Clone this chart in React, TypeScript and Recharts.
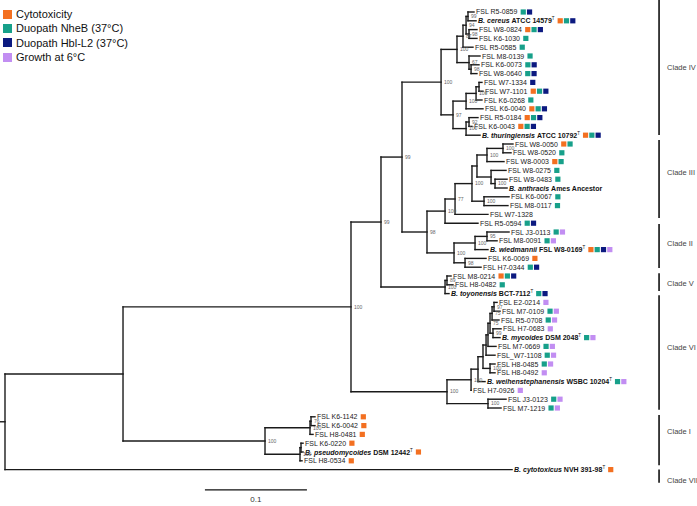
import React from 'react';
import { ScatterChart, Scatter, XAxis, YAxis, ReferenceLine } from 'recharts';

const FONT = '"Liberation Sans", Arial, sans-serif';

const traitKeys = ['C', 'N', 'H', 'G'];
const traitNames = ['Cytotoxicity', 'Duopath NheB (37°C)', 'Duopath Hbl-L2 (37°C)', 'Growth at 6°C'];
const traitColors = ['#F37021', '#17A08A', '#0C1A80', '#C28EF2'];

// leaves top to bottom; "species|strain|T" marks a named (type) strain
const leafLabels = [
  'FSL R5-0859', 'B. cereus|ATCC 14579|T', 'FSL W8-0824', 'FSL K6-1030', 'FSL R5-0585',
  'FSL M8-0139', 'FSL K6-0073', 'FSL W8-0640', 'FSL W7-1334', 'FSL W7-1101',
  'FSL K6-0268', 'FSL K6-0040', 'FSL R5-0184', 'FSL K6-0043', 'B. thuringiensis|ATCC 10792|T',
  'FSL W8-0050', 'FSL W8-0520', 'FSL W8-0003', 'FSL W8-0275', 'FSL W8-0483',
  'B. anthracis|Ames Ancestor|', 'FSL K6-0067', 'FSL M8-0117', 'FSL W7-1328', 'FSL R5-0594',
  'FSL J3-0113', 'FSL M8-0091', 'B. wiedmannii|FSL W8-0169|T', 'FSL K6-0069', 'FSL H7-0344',
  'FSL M8-0214', 'FSL H8-0482', 'B. toyonensis|BCT-7112|T',
  'FSL E2-0214', 'FSL M7-0109', 'FSL R5-0708', 'FSL H7-0683', 'B. mycoides|DSM 2048|T',
  'FSL M7-0669', 'FSL_W7-1108', 'FSL H8-0485', 'FSL H8-0492', 'B. weihenstephanensis|WSBC 10204|T',
  'FSL H7-0926', 'FSL J3-0123', 'FSL M7-1219',
  'FSL K6-1142', 'FSL K6-0042', 'FSL H8-0481', 'FSL K6-0220', 'B. pseudomycoides|DSM 12442|T',
  'FSL H8-0534', 'B. cytotoxicus|NVH 391-98|T',
];

// distance from root (substitutions/site)
const leafDepths = [
  0.4598, 0.4618, 0.4627, 0.4627, 0.4588, 0.4657, 0.4647, 0.4627, 0.4676, 0.4686,
  0.4676, 0.4686, 0.4637, 0.4578, 0.4657, 0.4980, 0.4961, 0.4892, 0.4912, 0.4922,
  0.4922, 0.4941, 0.4931, 0.4735, 0.4637, 0.4941, 0.4824, 0.4735, 0.4716, 0.4667,
  0.4373, 0.4392, 0.4353, 0.4824, 0.4853, 0.4843, 0.4863, 0.4853, 0.4814, 0.4804,
  0.4804, 0.4804, 0.4706, 0.4569, 0.4912, 0.4863, 0.3039, 0.3039, 0.3020, 0.2922,
  0.2922, 0.2912, 0.4971,
];

const leafTraits = [
  'NH', 'CNH', 'CNH', 'N', 'N', 'N', 'NH', 'NH', 'H', 'CNH',
  'N', 'CNH', 'CNH', 'CNH', 'CNH', 'CN', 'N', 'CN', 'N', 'N',
  '', 'N', 'N', '', 'NH', 'NG', 'NG', 'CNHG', 'C', 'NH',
  'CNH', 'N', 'NH', 'G', 'NG', 'NG', 'G', 'NG', 'NG', 'NG',
  'NG', 'G', 'NG', 'G', 'NG', 'NG', 'C', 'C', 'C', 'C',
  'C', 'C', 'C',
];

// internal nodes: id, children, depth, bootstrap
const nodes: [string, (string | number)[], number, string][] = [
  ['n99a', [0, 1], 0.4539, '99'],
  ['n98a', [2, 3], 0.4549, '98'],
  ['n94', ['n99a', 'n98a'], 0.4520, '94'],
  ['n87', ['n94', 4], 0.4490, '87'],
  ['n98b', [6, 7], 0.4569, '98'],
  ['n67', [5, 'n98b'], 0.4549, '67'],
  ['f', ['n87', 'n67'], 0.4431, '100'],
  ['n1', [8, 9], 0.4647, ''],
  ['n2', ['n1', 10], 0.4618, '100'],
  ['n3', ['n2', 11], 0.4520, '100'],
  ['n4', [12, 13], 0.4549, '92'],
  ['n5', ['n4', 14], 0.4520, '100'],
  ['g', ['n3', 'n5'], 0.4392, '97'],
  ['e', ['f', 'g'], 0.4275, '100'],
  ['u1', [15, 16], 0.4882, '100'],
  ['u', ['u1', 17], 0.4725, '100'],
  ['v1', [19, 20], 0.4804, '100'],
  ['v', [18, 'v1'], 0.4765, ''],
  ['s', ['u', 'v'], 0.4627, ''],
  ['t', [21, 22], 0.4696, '100'],
  ['r', ['s', 't'], 0.4578, '100'],
  ['q', ['r', 23], 0.4412, '77'],
  ['p', ['q', 24], 0.4314, '100'],
  ['w11', [25, 26], 0.4725, '95'],
  ['w1', ['w11', 27], 0.4608, '100'],
  ['w2', [28, 29], 0.4510, '98'],
  ['w', ['w1', 'w2'], 0.4402, '100'],
  ['x', ['p', 'w'], 0.4137, '98'],
  ['d', ['e', 'x'], 0.3892, '99'],
  ['v5', [30, 31], 0.4333, '89'],
  ['vn', ['v5', 32], 0.4314, '100'],
  ['c', ['d', 'vn'], 0.3686, '99'],
  ['m97', [33, 34], 0.4794, '97'],
  ['m75', ['m97', 35], 0.4775, '75'],
  ['m99', [36, 37], 0.4784, '99'],
  ['m75b', ['m75', 'm99'], 0.4755, '75'],
  ['mf', ['m75b', 38], 0.4735, ''],
  ['me', ['mf', 39], 0.4716, ''],
  ['h8', [40, 41], 0.4755, '100'],
  ['md', ['me', 'h8'], 0.4686, ''],
  ['mc', ['md', 42], 0.4637, ''],
  ['ma', ['mc', 43], 0.4569, '100'],
  ['mb', [44, 45], 0.4735, '100'],
  ['vi', ['ma', 'mb'], 0.4333, '100'],
  ['b', ['c', 'vi'], 0.3392, '100'],
  ['i1a', [46, 47], 0.3000, '76'],
  ['i1', ['i1a', 48], 0.2990, '100'],
  ['i2b', [49, 50], 0.2902, ''],
  ['i2', ['i2b', 51], 0.2892, '100'],
  ['i', ['i1', 'i2'], 0.2549, '100'],
  ['a', ['b', 'i'], 0.1157, ''],
  ['root', ['a', 52], 0, ''],
];

const cladeNames = ['Clade IV', 'Clade III', 'Clade II', 'Clade V', 'Clade VI', 'Clade I', 'Clade VII'];
const cladeFrom = [-1.36, 14.55, 24.1, 29.7, 32.2, 45.8, 52.0];
const cladeTo = [13.98, 23.4, 29.1, 31.7, 45.2, 51.5, 53.5];
const cladeLabelAt = [6.25, 18.2, 26.25, 30.8, 38.1, 47.7, 53.2];
const cladeBarDepth = 0.6412;

const scaleBar = 0.1;
const scaleBarStart = 0.196;
const scaleBarRow = 54.3;

// ---- layout ----
const nodeById = new Map(nodes.map((n) => [n[0], n]));
const depthOf = (k: string | number): number => (typeof k === 'number' ? leafDepths[k] : nodeById.get(k)![2]);
const yCache = new Map<string, number>();
const yOf = (k: string | number): number => {
  if (typeof k === 'number') return k;
  if (yCache.has(k)) return yCache.get(k)!;
  const kids = nodeById.get(k)![1];
  const y = (yOf(kids[0]) + yOf(kids[kids.length - 1])) / 2;
  yCache.set(k, y);
  return y;
};

type Seg = { x1: number; y1: number; x2: number; y2: number };
const segments: Seg[] = [];
nodes.forEach(([id, kids, depth]) => {
  segments.push({ x1: depth, y1: yOf(kids[0]), x2: depth, y2: yOf(kids[kids.length - 1]) });
  kids.forEach((k) => segments.push({ x1: depth, y1: yOf(k), x2: depthOf(k), y2: yOf(k) }));
});
const rootY = yOf('root');
segments.push({ x1: -0.006, y1: rootY, x2: 0, y2: rootY });

const leafPoints = leafLabels.map((label, i) => ({ x: leafDepths[i], y: i, label, traits: leafTraits[i] }));
const nodePoints = nodes.map(([id, , depth, sup]) => ({ x: depth, y: yOf(id), sup }));
const cladePoints = cladeNames.map((name, i) => ({ x: cladeBarDepth, y: cladeLabelAt[i], name }));

let ctx: CanvasRenderingContext2D | null = null;
function textWidth(s: string, font: string) {
  if (!ctx) ctx = document.createElement('canvas').getContext('2d');
  if (!ctx) return s.length * 3.6;
  ctx.font = font;
  return ctx.measureText(s).width;
}

const FS = 7;

function LeafMark(props: any) {
  const { cx, cy, payload } = props;
  const parts: string[] = payload.label.split('|');
  const x0 = cx + 2;
  let w = 0;
  let text;
  if (parts.length === 1) {
    w = textWidth(parts[0], `${FS}px ${FONT}`);
    text = (
      <text x={x0} y={cy + 2.5} fontSize={FS} fontFamily={FONT} fill="#222">
        {parts[0]}
      </text>
    );
  } else {
    const [sp, strain, t] = parts;
    w = textWidth(sp + ' ', `italic bold ${FS}px ${FONT}`) + textWidth(strain, `bold ${FS}px ${FONT}`);
    if (t) w += textWidth('T', `4.5px ${FONT}`);
    text = (
      <text x={x0} y={cy + 2.5} fontSize={FS} fontFamily={FONT} fill="#111" style={{ whiteSpace: 'pre' }}>
        <tspan fontStyle="italic" fontWeight="bold">{sp + ' '}</tspan>
        <tspan fontWeight="bold">{strain}</tspan>
        {t ? <tspan fontSize={4.5} dy={-3}>{t}</tspan> : null}
      </text>
    );
  }
  const sx = x0 + w + 3;
  const keys = traitKeys.filter((k) => payload.traits.includes(k));
  return (
    <g>
      {text}
      {keys.map((k, j) => (
        <rect key={k} x={sx + j * 6.3} y={cy - 2.6} width={5.2} height={5.2} fill={traitColors[traitKeys.indexOf(k)]} />
      ))}
    </g>
  );
}

function SupportMark(props: any) {
  const { cx, cy, payload } = props;
  if (!payload.sup) return <g />;
  return (
    <text x={cx + 3} y={cy + 1.8} fontSize={5} fontFamily={FONT} fill="#666">
      {payload.sup}
    </text>
  );
}

function CladeMark(props: any) {
  const { cx, cy, payload } = props;
  return (
    <text x={cx + 8} y={cy + 2.6} fontSize={7.5} fontFamily={FONT} fill="#444">
      {payload.name}
    </text>
  );
}

export default function App() {
  return (
    <div style={{ position: 'absolute', left: 0, top: 0, width: 697, height: 506, background: '#fff' }}>
      <ScatterChart width={697} height={506} margin={{ top: 0, right: 0, bottom: 0, left: 0 }}>
        <XAxis type="number" dataKey="x" domain={[-0.0049, 0.6784]} hide allowDataOverflow />
        <YAxis type="number" dataKey="y" domain={[-1.3636, 56.136]} reversed hide allowDataOverflow />
        {segments.map((s, i) => (
          <ReferenceLine
            key={`b${i}`}
            segment={[{ x: s.x1, y: s.y1 }, { x: s.x2, y: s.y2 }]}
            stroke="#1a1a1a"
            strokeWidth={1.4}
            strokeLinecap="square"
            ifOverflow="visible"
          />
        ))}
        {cladeNames.map((name, i) => (
          <ReferenceLine
            key={name}
            segment={[{ x: cladeBarDepth, y: cladeFrom[i] }, { x: cladeBarDepth, y: cladeTo[i] }]}
            stroke="#111"
            strokeWidth={1.6}
            ifOverflow="visible"
          />
        ))}
        <ReferenceLine
          segment={[{ x: scaleBarStart, y: scaleBarRow }, { x: scaleBarStart + scaleBar, y: scaleBarRow }]}
          stroke="#111"
          strokeWidth={1.3}
          ifOverflow="visible"
          label={{ value: String(scaleBar), position: 'bottom', offset: 6, fontSize: 8, fill: '#333', fontFamily: FONT }}
        />
        <Scatter data={leafPoints} shape={LeafMark} isAnimationActive={false} />
        <Scatter data={nodePoints} shape={SupportMark} isAnimationActive={false} />
        <Scatter data={cladePoints} shape={CladeMark} isAnimationActive={false} />
      </ScatterChart>
      <div style={{ position: 'absolute', left: 3, top: 7, fontFamily: FONT, fontSize: 11, color: '#111' }}>
        {traitNames.map((t, i) => (
          <div key={t} style={{ display: 'flex', alignItems: 'center', height: 14.3 }}>
            <span style={{ display: 'inline-block', width: 9, height: 9, background: traitColors[i], marginRight: 4 }} />
            {t}
          </div>
        ))}
      </div>
    </div>
  );
}
